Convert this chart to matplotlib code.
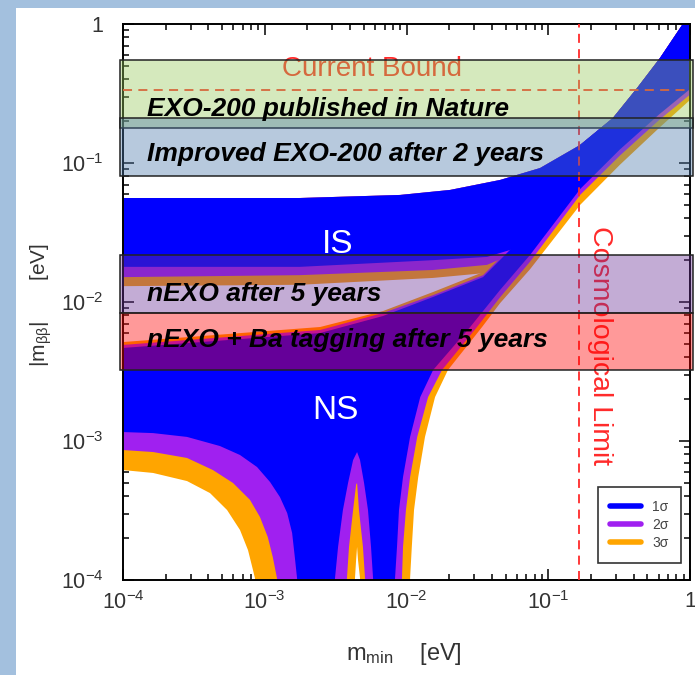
import matplotlib
matplotlib.use("Agg")
import matplotlib.pyplot as plt
from matplotlib.lines import Line2D
from matplotlib.patches import Rectangle
import matplotlib.transforms as mtransforms

plt.rcParams['font.family'] = ['Liberation Sans', 'DejaVu Sans']
plt.rcParams['mathtext.fontset'] = 'custom'
plt.rcParams['mathtext.rm'] = 'Liberation Sans'
plt.rcParams['mathtext.it'] = 'Liberation Sans:italic'

# --- band edges (m_min [eV], |m_bb| [eV]) ---
top_x = [1e-4, 1.77e-3, 9.0e-3, 2.03e-2, 4.57e-2, 8.75e-2, 0.168, 0.286, 0.423, 0.614, 0.89, 1.0]
top_y = [0.056, 0.056, 0.0589, 0.064, 0.0755, 0.092, 0.135, 0.211, 0.346, 0.569, 1.0, 1.15]

is_low_x = [1e-4, 1.77e-3, 1.54e-2, 3.7e-2, 5.4e-2, 8.75e-2, 0.168, 0.32, 0.61, 1.0]
is_low_1 = [0.0179, 0.0179, 0.0200, 0.0211, 0.0237, 0.035, 0.07, 0.14, 0.25, 0.36]
is_low_2 = [0.0151, 0.0156, 0.0170, 0.0185, 0.0218, 0.035, 0.07, 0.14, 0.25, 0.36]
is_low_3 = [0.0130, 0.0133, 0.0149, 0.0162, 0.0194, 0.035, 0.07, 0.14, 0.25, 0.36]

ns_up_x = [1e-4, 2.46e-3, 6.83e-3, 1.54e-2, 3.47e-2, 5.37e-2, 8.75e-2, 0.168, 0.286, 0.423, 0.614, 0.89, 1.0]
ns_up_1 = [0.00467, 0.00598, 0.00793, 0.01087, 0.0151, 0.0237, 0.0542, 0.135, 0.211, 0.346, 0.569, 1.0, 1.15]
ns_up_2 = [0.00491, 0.00629, 0.00834, 0.0112, 0.0156, 0.0245, 0.056, 0.135, 0.211, 0.346, 0.569, 1.0, 1.15]
ns_up_3 = [0.00515, 0.00661, 0.00861, 0.0118, 0.0164, 0.0255, 0.058, 0.135, 0.211, 0.346, 0.569, 1.0, 1.15]

# lower edges of the normal spectrum (3e-5 = below the frame, i.e. zero)
ns_low_1x = [1e-4, 1.63e-4, 2.83e-4, 4.83e-4, 6.69e-4, 8.82e-4, 1.09e-3, 1.28e-3, 1.44e-3, 1.56e-3,
             1.63e-3, 1.69e-3, 1.70e-3,
             3.13e-3, 3.13e-3, 3.29e-3, 3.56e-3, 3.87e-3, 4.2e-3, 4.48e-3, 4.7e-3, 5.02e-3,
             5.35e-3, 5.62e-3, 5.81e-3, 5.81e-3,
             8.3e-3, 8.3e-3, 8.57e-3, 8.85e-3, 9.45e-3, 1.06e-2, 1.25e-2, 1.54e-2, 2.81e-2,
             0.0457, 0.0744, 0.168, 0.32, 0.61, 1.0]
ns_low_1y = [0.00116, 0.00114, 0.00107, 9.2e-4, 7.93e-4, 6.5e-4, 5.07e-4, 3.95e-4, 3.03e-4, 2.18e-4,
             1.46e-4, 1.03e-4, 3e-5,
             3e-5, 1.03e-4, 1.73e-4, 3.19e-4, 4.99e-4, 7.3e-4, 8.33e-4, 7.3e-4, 4.99e-4,
             3.19e-4, 1.73e-4, 1.03e-4, 3e-5,
             3e-5, 1.03e-4, 1.73e-4, 3.19e-4, 5.51e-4, 1.07e-3, 2.07e-3, 3.24e-3, 0.0066,
             0.0122, 0.0218, 0.065, 0.125, 0.225, 0.34]

ns_low_2x = [1e-4, 1.63e-4, 2.83e-4, 4.31e-4, 5.97e-4, 7.87e-4, 9.25e-4, 1.05e-3, 1.14e-3, 1.22e-3, 1.24e-3,
             3.8e-3, 3.8e-3, 3.93e-3, 4.2e-3, 4.41e-3, 4.48e-3, 4.62e-3, 4.93e-3, 5.1e-3, 5.1e-3,
             9.29e-3, 9.29e-3, 9.45e-3, 9.91e-3, 1.06e-2, 1.19e-2, 1.42e-2, 1.78e-2, 3.14e-2,
             0.0457, 0.0744, 0.168, 0.32, 0.61, 1.0]
ns_low_2y = [8.61e-4, 8.33e-4, 7.55e-4, 6.18e-4, 4.99e-4, 3.77e-4, 2.84e-4, 2.04e-4, 1.46e-4, 1.03e-4, 3e-5,
             3e-5, 1.03e-4, 1.73e-4, 3.19e-4, 4.85e-4, 4.99e-4, 3.19e-4, 1.73e-4, 1.03e-4, 3e-5,
             3e-5, 1.03e-4, 1.73e-4, 3.19e-4, 5.51e-4, 1.07e-3, 2.07e-3, 3.24e-3, 0.0066,
             0.0108, 0.0195, 0.059, 0.113, 0.205, 0.31]

ns_low_3x = [1e-4, 1.63e-4, 2.83e-4, 4.11e-4, 5.42e-4, 6.69e-4, 7.62e-4, 8.26e-4, 8.53e-4, 8.6e-4,
             4.33e-3, 4.33e-3, 4.41e-3, 4.48e-3, 4.55e-3, 4.7e-3, 4.7e-3,
             1.06e-2, 1.06e-2, 1.09e-2, 1.13e-2, 1.21e-2, 1.35e-2, 1.59e-2, 1.96e-2, 3.41e-2,
             0.0457, 0.0744, 0.168, 0.32, 0.61, 1.0]
ns_low_3y = [6.18e-4, 5.89e-4, 5.15e-4, 4.22e-4, 3.19e-4, 2.29e-4, 1.64e-4, 1.18e-4, 1.03e-4, 3e-5,
             3e-5, 1.03e-4, 1.39e-4, 1.73e-4, 1.39e-4, 1.03e-4, 3e-5,
             3e-5, 1.03e-4, 1.73e-4, 3.19e-4, 5.51e-4, 1.07e-3, 2.07e-3, 3.24e-3, 0.0066,
             0.0098, 0.0172, 0.05, 0.097, 0.18, 0.284]

sigma_labels = ['1σ', '2σ', '3σ']
sigma_colors = ['#0000ff', '#a020f0', '#ffa500']

# experiment sensitivity boxes
box_names = ['EXO-200 published in Nature', 'Improved EXO-200 after 2 years',
             'nEXO after 5 years', 'nEXO + Ba tagging after 5 years']
box_lo = [0.18, 0.0806, 0.00834, 0.00324]
box_hi = [0.551, 0.211, 0.0218, 0.00834]
box_text_y = [0.245, 0.116, 0.0115, 0.0053]
box_colors = ['#96c85c', '#4d7aac', '#6b3098', '#ff0000']

current_bound = 0.335
cosmo_limit = 0.165

xticks = [1e-4, 1e-3, 1e-2, 1e-1, 1]
xticklabels = ['$\\mathregular{10^{-4}}$', '$\\mathregular{10^{-3}}$', '$\\mathregular{10^{-2}}$',
               '$\\mathregular{10^{-1}}$', '1']
yticks = [1e-4, 1e-3, 1e-2, 1e-1, 1]
yticklabels = xticklabels


def band(ax, xu, yu, xl, yl, color):
    ax.fill(list(xu) + list(xl)[::-1], list(yu) + list(yl)[::-1],
            color=color, lw=0, zorder=2)


fig = plt.figure(figsize=(6.95, 6.75), dpi=100, facecolor='white')
# light blue slide frame on the left and top
fig.patches.append(Rectangle((0, 0), 16 / 695, 1, transform=fig.transFigure,
                             facecolor='#a3c0de', edgecolor='none', zorder=-10))
fig.patches.append(Rectangle((0, 667 / 675), 1, 8 / 675, transform=fig.transFigure,
                             facecolor='#a3c0de', edgecolor='none', zorder=-10))
ax = fig.add_axes([123 / 695, 95 / 675, 567 / 695, 556 / 675])
ax.set_xscale('log')
ax.set_yscale('log')
ax.set_xlim(1e-4, 1)
ax.set_ylim(1e-4, 1)

ns_low = [(ns_low_3x, ns_low_3y), (ns_low_2x, ns_low_2y), (ns_low_1x, ns_low_1y)]
ns_up = [ns_up_3, ns_up_2, ns_up_1]
is_low = [is_low_3, is_low_2, is_low_1]
for k, col in enumerate(sigma_colors[::-1]):
    band(ax, ns_up_x, ns_up[k], ns_low[k][0], ns_low[k][1], col)
    band(ax, top_x, top_y, is_low_x, is_low[k], col)

ax.text(3.29e-3, 0.026, 'IS', color='white', fontsize=24, ha='center', va='center', zorder=3)
ax.text(3.17e-3, 1.67e-3, 'NS', color='white', fontsize=24, ha='center', va='center', zorder=3)

# limits
ax.axhline(current_bound, color='#ff2a2a', ls=(0, (5, 3.5)), lw=1.3, zorder=3)
ax.axvline(cosmo_limit, color='#ff2a2a', ls=(0, (5, 3.5)), lw=1.3, zorder=3)
ax.text(5.72e-3, 0.475, 'Current Bound', color='#ff2a2a', fontsize=20,
        ha='center', va='center', zorder=3)
ax.text(0.232, 0.00482, 'Cosmological Limit', color='#ff2a2a', fontsize=20.5,
        rotation=-90, ha='center', va='center', zorder=3)

trans = mtransforms.blended_transform_factory(ax.transAxes, ax.transData)
for name, lo, hi, ty, col in zip(box_names, box_lo, box_hi, box_text_y, box_colors):
    ax.add_patch(Rectangle((-0.006, lo), 1.012, hi - lo, transform=trans,
                           facecolor=col, alpha=0.4, edgecolor='none',
                           clip_on=False, zorder=4))
    ax.add_patch(Rectangle((-0.006, lo), 1.012, hi - lo, transform=trans,
                           facecolor='none', edgecolor='#222222', lw=1.1,
                           clip_on=False, zorder=4))
    ax.text(0.042, ty, name, transform=trans, fontsize=19, fontweight='bold',
            fontstyle='italic', color='black', va='center', ha='left', zorder=5)

handles = [Line2D([], [], color=c, lw=4, solid_capstyle='round') for c in sigma_colors]
leg = ax.legend(handles, sigma_labels, loc='lower right', bbox_to_anchor=(0.984, 0.031),
                borderaxespad=0, frameon=True, fancybox=False, fontsize=10,
                handlelength=2.2, labelspacing=0.3, borderpad=0.9, labelcolor='#444444')
leg.get_frame().set_edgecolor('black')
leg.get_frame().set_linewidth(1.2)
leg.set_zorder(6)

ax.set_xticks(xticks)
ax.set_xticklabels(xticklabels)
ax.set_yticks(yticks)
ax.set_yticklabels(yticklabels)
ax.tick_params(which='both', direction='in', top=True, right=True, width=1.1,
               colors='black', labelcolor='#333333', labelsize=15.5)
ax.tick_params(which='major', length=8)
ax.tick_params(which='minor', length=4.5)
ax.tick_params(axis='x', pad=8)
ax.tick_params(axis='y', pad=14)
for s in ax.spines.values():
    s.set_linewidth(1.4)

ax.set_xlabel('$\\mathregular{m_{min}}$    [eV]', fontsize=17, color='#333333')
ax.set_ylabel('$\\mathregular{|m_{ββ}|}$       [eV]', fontsize=15, color='#333333')
ax.xaxis.set_label_coords(0.495, -0.11)
ax.yaxis.set_label_coords(-0.122, 0.495)

fig.savefig('out.png', dpi=100, facecolor=fig.get_facecolor())
